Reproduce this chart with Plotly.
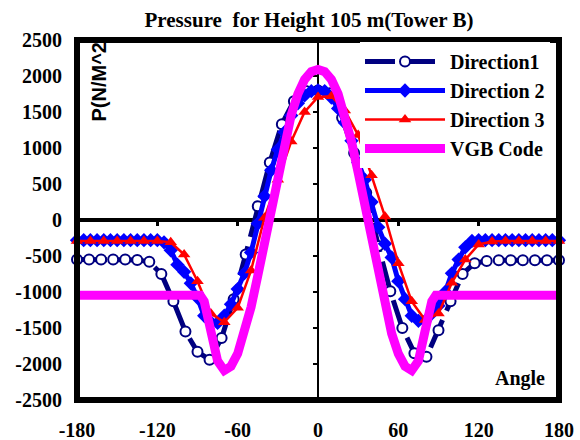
import plotly.graph_objects as go

# ---- data -----------------------------------------------------------------
angle_dir1 = [-180, -171, -162, -153, -144, -135, -126, -117, -108, -99, -90,
              -81, -72, -63, -54, -45, -36, -27, -18, -9, 0, 9, 18, 27, 36,
              45, 54, 63, 72, 81, 90, 99, 108, 117, 126, 135, 144, 153, 162,
              171, 180]
p_dir1 = [-550, -550, -550, -550, -550, -555, -580, -750, -1130, -1550, -1830,
          -1940, -1640, -1100, -480, 190, 800, 1330, 1650, 1790, 1800, 1760,
          1420, 930, 380, -360, -990, -1500, -1850, -1900, -1530, -1130, -750,
          -600, -570, -560, -560, -560, -560, -560, -560]

angle_dir2 = [-180, -175, -170, -165, -160, -155, -150, -145, -140, -135, -130,
              -125, -120, -115, -110, -105, -100, -95, -90, -85, -80, -75, -70,
              -65, -60, -55, -50, -45, -40, -35, -30, -25, -20, -15, -10, -5,
              0, 5, 10, 15, 20, 25, 30, 35, 40, 45, 50, 55, 60, 65, 70, 75, 80,
              85, 90, 95, 100, 105, 110, 115, 120, 125, 130, 135, 140, 145,
              150, 155, 160, 165, 170, 175, 180]
p_dir2 = [-280, -280, -280, -280, -280, -280, -280, -280, -280, -280, -280,
          -280, -280, -310, -420, -620, -720, -880, -1080, -1330, -1420, -1430,
          -1330, -1170, -960, -740, -450, -50, 330, 690, 980, 1220, 1450, 1620,
          1730, 1790, 1800, 1790, 1700, 1550, 1350, 1100, 800, 560, 250, -100,
          -330, -520, -850, -1100, -1330, -1400, -1400, -1300, -1190, -1000,
          -740, -550, -380, -290, -280, -280, -280, -280, -280, -280, -280,
          -280, -280, -280, -280, -280, -280]

angle_dir3 = [-180, -170, -160, -150, -140, -130, -120, -110, -100, -90, -80,
              -70, -60, -50, -40, -30, -20, -10, 0, 10, 20, 30, 40, 50, 60, 70,
              80, 90, 100, 110, 120, 130, 140, 150, 160, 170, 180]
p_dir3 = [-290, -290, -290, -290, -290, -290, -290, -310, -480, -850, -1300,
          -1420, -1220, -700, 30, 560, 1090, 1500, 1710, 1720, 1520, 1180, 620,
          50, -600, -1130, -1390, -1300, -870, -550, -340, -300, -290, -290,
          -290, -290, -290]

angle_vgb = [-180, -150, -120, -90, -88, -85, -80, -75, -70, -65, -60, -55,
             -50, -45, -40, -35, -30, -25, -20, -15, -10, -5, 0, 5, 10, 15, 20,
             25, 30, 35, 40, 45, 50, 55, 60, 65, 70, 75, 80, 85, 88, 90, 120,
             150, 180]
p_vgb = [-1045, -1045, -1045, -1045, -1045, -1128, -1538, -1957, -2090, -2031,
         -1856, -1577, -1210, -776, -303, 185, 658, 1091, 1460, 1751, 1951,
         2061, 2090, 2061, 1951, 1751, 1460, 1091, 658, 185, -303, -776, -1210,
         -1577, -1856, -2031, -2090, -1957, -1538, -1128, -1045, -1045, -1045,
         -1045, -1045]

x_ticks = [-180, -120, -60, 0, 60, 120, 180]
x_inner_ticks = [-120, -60, 60, 120]
y_ticks = [-2500, -2000, -1500, -1000, -500, 0, 500, 1000, 1500, 2000, 2500]

serif = "Liberation Serif, Times New Roman, serif"
sans = "Liberation Sans, Arial, sans-serif"

fig = go.Figure()

fig.add_trace(go.Scatter(
    x=angle_dir1, y=p_dir1, name="Direction1", mode="lines+markers",
    line=dict(color="#000080", width=5, dash="30px,10px"),
    marker=dict(symbol="circle", size=10, color="white",
                line=dict(color="#000080", width=2)),
    cliponaxis=False))

fig.add_trace(go.Scatter(
    x=angle_dir2, y=p_dir2, name="Direction 2", mode="lines+markers",
    line=dict(color="#0000FF", width=5),
    marker=dict(symbol="diamond", size=11, color="#0000FF"),
    cliponaxis=False))

fig.add_trace(go.Scatter(
    x=angle_dir3, y=p_dir3, name="Direction 3", mode="lines+markers",
    line=dict(color="#FF0000", width=2.5),
    marker=dict(symbol="triangle-up", size=11, color="#FF0000"),
    cliponaxis=False))

# VGB code curve sits on the overlay axes that carry the inner tick marks
fig.add_trace(go.Scatter(
    x=angle_vgb, y=p_vgb, name="VGB Code", mode="lines",
    line=dict(color="#FF00FF", width=9),
    xaxis="x2", yaxis="y2"))

fig.update_layout(
    width=580, height=440,
    margin=dict(l=77, r=21, t=40, b=40),
    paper_bgcolor="white", plot_bgcolor="rgba(0,0,0,0)",
    title=dict(text="<b>Pressure  for Height 105 m(Tower B)</b>",
               font=dict(family=serif, size=21, color="black"),
               x=309 / 580, xanchor="center", xref="container",
               y=1 - 20 / 440, yanchor="middle", yref="container"),
    xaxis=dict(range=[-180, 180], tickvals=x_ticks,
               ticktext=[f"<b>{v}</b>" for v in x_ticks],
               ticks="outside", ticklen=12, tickcolor="rgba(0,0,0,0)",
               tickfont=dict(family=serif, size=20, color="black"),
               showgrid=False, showline=False, automargin=False,
               zeroline=True, zerolinecolor="black", zerolinewidth=2),
    yaxis=dict(range=[-2500, 2500], tickvals=y_ticks,
               ticktext=[f"<b>{v}</b>" for v in y_ticks],
               ticks="outside", ticklen=10, tickcolor="rgba(0,0,0,0)",
               tickfont=dict(family=serif, size=20, color="black"),
               showgrid=False, showline=False, automargin=False,
               zeroline=True, zerolinecolor="black", zerolinewidth=4),
    xaxis2=dict(range=[-180, 180], overlaying="x", anchor="free",
                position=0.5, side="bottom", tickvals=x_inner_ticks,
                ticks="outside", ticklen=5, tickwidth=3, tickcolor="black",
                showticklabels=False, showgrid=False, showline=False,
                zeroline=False, layer="below traces", automargin=False),
    yaxis2=dict(range=[-2500, 2500], overlaying="y", anchor="free",
                position=0.5, side="left", tickvals=y_ticks,
                ticks="outside", ticklen=5, tickwidth=2, tickcolor="black",
                showticklabels=False, showgrid=False, showline=False,
                zeroline=False, layer="below traces", automargin=False),
    legend=dict(x=(360 - 77) / 482, y=1 - (42 - 40) / 360,
                xanchor="left", yanchor="top",
                bgcolor="white", borderwidth=0,
                font=dict(family=serif, size=20, color="black",
                          weight="bold"),
                itemwidth=80, tracegroupgap=8),
    showlegend=True,
)

# plot-area frame
fig.add_shape(type="rect", xref="paper", yref="paper", x0=0, x1=1, y0=0, y1=1,
              line=dict(color="black", width=6), layer="above")

fig.add_annotation(text="<b>P(N/M^2</b>", textangle=-90,
                   xref="paper", yref="paper",
                   x=(98 - 77) / 482, y=1 - (124 - 40) / 360,
                   xanchor="center", yanchor="bottom", showarrow=False,
                   font=dict(family=sans, size=20, color="black"))

fig.add_annotation(text="<b>Angle</b>", xref="paper", yref="paper",
                   x=(520 - 77) / 482, y=1 - (378 - 40) / 360,
                   xanchor="center", yanchor="middle", showarrow=False,
                   font=dict(family=serif, size=20, color="black"))

fig.write_html("out.html")
